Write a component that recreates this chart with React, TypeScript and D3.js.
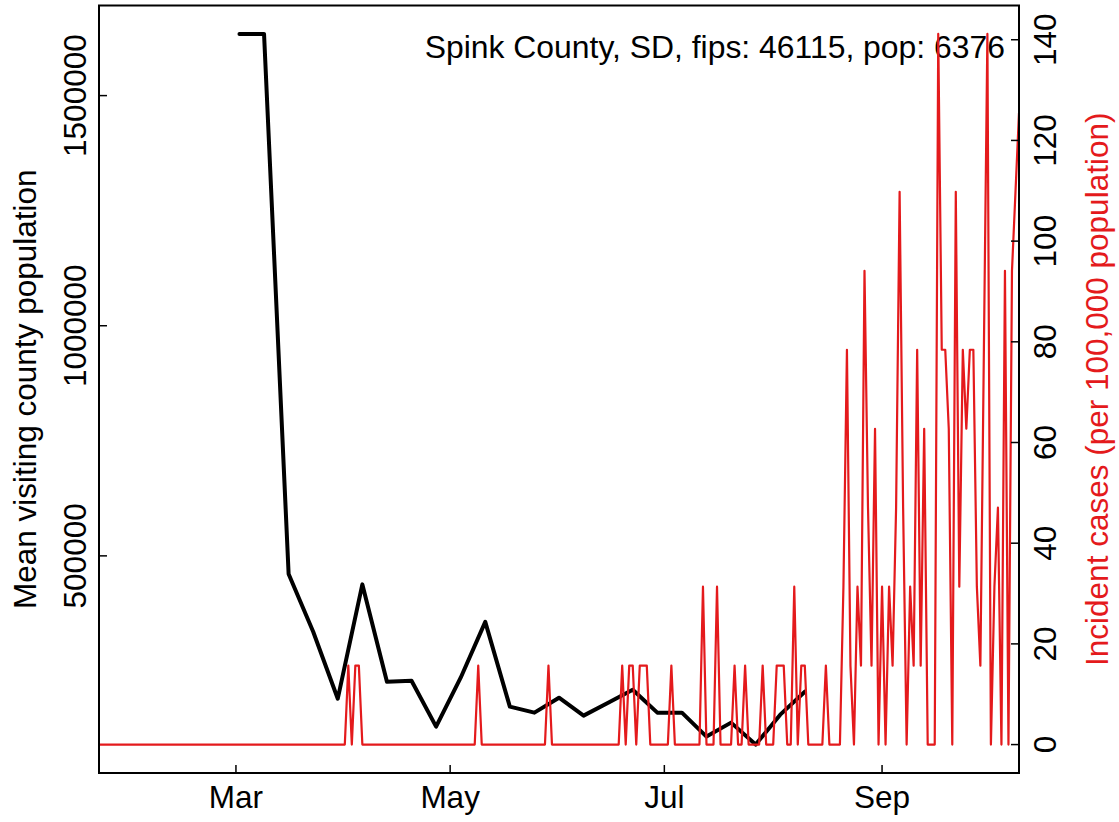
import { useEffect, useRef } from 'react';
import * as d3 from 'd3';

const countyLabel = 'Spink County, SD, fips: 46115, pop: 6376';
const population = 6376;

// weekly mean visiting county population
const visitDates = [
  '2020-03-02', '2020-03-09', '2020-03-16', '2020-03-23', '2020-03-30', '2020-04-06',
  '2020-04-13', '2020-04-20', '2020-04-27', '2020-05-04', '2020-05-11', '2020-05-18',
  '2020-05-25', '2020-06-01', '2020-06-08', '2020-06-15', '2020-06-22', '2020-06-29',
  '2020-07-06', '2020-07-13', '2020-07-20', '2020-07-27', '2020-08-03', '2020-08-10'
];
const visitValues = [
  1634000, 1634000, 460800, 335000, 189700, 438000,
  226600, 228800, 129000, 235300, 356700, 172400,
  159400, 191900, 152900, 181100, 209300, 159400,
  159400, 107300, 137700, 90000, 155000, 204900
];

// daily new cases, one value per day from Jan 22 to Oct 10
const caseStart = '2020-01-22';
const casesJan = [0, 0, 0, 0, 0, 0, 0, 0, 0, 0];
const casesFeb = [0, 0, 0, 0, 0, 0, 0, 0, 0, 0, 0, 0, 0, 0, 0, 0, 0, 0, 0, 0, 0, 0, 0, 0, 0, 0, 0, 0, 0];
const casesMar = [0, 0, 0, 0, 0, 0, 0, 0, 0, 0, 0, 0, 0, 0, 0, 0, 0, 0, 0, 0, 0, 0, 0, 0, 0, 0, 0, 0, 0, 0, 0];
const casesApr = [0, 1, 0, 1, 1, 0, 0, 0, 0, 0, 0, 0, 0, 0, 0, 0, 0, 0, 0, 0, 0, 0, 0, 0, 0, 0, 0, 0, 0, 0];
const casesMay = [0, 0, 0, 0, 0, 0, 0, 0, 1, 0, 0, 0, 0, 0, 0, 0, 0, 0, 0, 0, 0, 0, 0, 0, 0, 0, 0, 0, 1, 0, 0];
const casesJun = [0, 0, 0, 0, 0, 0, 0, 0, 0, 0, 0, 0, 0, 0, 0, 0, 0, 0, 1, 0, 1, 1, 0, 1, 1, 1, 0, 0, 0, 0];
const casesJul = [0, 0, 1, 0, 0, 0, 0, 0, 0, 0, 0, 2, 0, 0, 0, 2, 0, 0, 0, 0, 1, 0, 0, 1, 0, 0, 0, 0, 1, 0, 0];
const casesAug = [0, 1, 1, 1, 0, 0, 2, 0, 1, 1, 0, 0, 0, 0, 0, 1, 0, 0, 0, 0, 2, 5, 1, 0, 2, 1, 6, 3, 1, 4, 0];
const casesSep = [2, 0, 2, 1, 3, 7, 3, 0, 2, 1, 5, 1, 4, 0, 0, 0, 9, 5, 5, 4, 0, 7, 2, 5, 4, 5, 5, 2, 1, 5];
const casesOct = [9, 0, 2, 3, 0, 6, 0, 6, 7, 8];

const monthTicks = ['2020-03-01', '2020-05-01', '2020-07-01', '2020-09-01'];
const leftTicks = [500000, 1000000, 1500000];
const rightTicks = [0, 20, 40, 60, 80, 100, 120, 140];

const RED = '#E41A1C';
const FONT = '"Liberation Sans", Arial, Helvetica, sans-serif';

// R style axis range: data extent widened by 4% on each side
const padExtent = (vals: number[]): [number, number] => {
  const [lo, hi] = d3.extent(vals) as [number, number];
  const pad = (hi - lo) * 0.04;
  return [lo - pad, hi + pad];
};

const App = () => {
  const ref = useRef<SVGSVGElement | null>(null);

  useEffect(() => {
    if (!ref.current) return;
    const svg = d3.select(ref.current);
    svg.selectAll('*').remove();

    const box = { left: 99, right: 1019, top: 5.5, bottom: 773 };
    const parse = d3.utcParse('%Y-%m-%d');

    const dailyCases = [
      ...casesJan, ...casesFeb, ...casesMar, ...casesApr, ...casesMay,
      ...casesJun, ...casesJul, ...casesAug, ...casesSep, ...casesOct
    ];
    const start = parse(caseStart) as Date;
    const incidence = dailyCases.map((c, i) => ({
      date: d3.utcDay.offset(start, i),
      value: (c * 100000) / population
    }));
    const visits = visitDates.map((d, i) => ({ date: parse(d) as Date, value: visitValues[i] }));

    const x = d3
      .scaleUtc()
      .domain([start, incidence[incidence.length - 1].date])
      .range([box.left, box.right]);
    const yLeft = d3.scaleLinear().domain(padExtent(visitValues)).range([box.bottom, box.top]);
    const yRight = d3
      .scaleLinear()
      .domain(padExtent(incidence.map((d) => d.value)))
      .range([box.bottom, box.top]);

    const defs = svg.append('defs');
    defs
      .append('clipPath')
      .attr('id', 'plot-clip')
      .append('rect')
      .attr('x', box.left)
      .attr('y', box.top)
      .attr('width', box.right - box.left)
      .attr('height', box.bottom - box.top);

    // title
    svg
      .append('text')
      .attr('x', 1005)
      .attr('y', 58)
      .attr('text-anchor', 'end')
      .style('font-family', FONT)
      .style('font-size', '31.9px')
      .style('fill', '#000')
      .text(countyLabel);

    const plot = svg.append('g').attr('clip-path', 'url(#plot-clip)');

    // visiting population line
    const visitLine = d3
      .line<{ date: Date; value: number }>()
      .x((d) => x(d.date))
      .y((d) => yLeft(d.value));
    plot
      .append('path')
      .datum(visits)
      .attr('fill', 'none')
      .attr('stroke', '#000')
      .attr('stroke-width', 4)
      .attr('stroke-linejoin', 'round')
      .attr('stroke-linecap', 'round')
      .attr('d', visitLine);

    // incidence line
    const caseLine = d3
      .line<{ date: Date; value: number }>()
      .x((d) => x(d.date))
      .y((d) => yRight(d.value));
    plot
      .append('path')
      .datum(incidence)
      .attr('fill', 'none')
      .attr('stroke', RED)
      .attr('stroke-width', 2.2)
      .attr('stroke-linejoin', 'round')
      .attr('d', caseLine);

    // frame
    svg
      .append('rect')
      .attr('x', box.left)
      .attr('y', box.top)
      .attr('width', box.right - box.left)
      .attr('height', box.bottom - box.top)
      .attr('fill', 'none')
      .attr('stroke', '#000')
      .attr('stroke-width', 2);

    const tick = 8;
    const label = (sel: d3.Selection<SVGTextElement, unknown, null, undefined>) =>
      sel.style('font-family', FONT).style('font-size', '31.5px');

    // bottom axis
    monthTicks.forEach((m) => {
      const d = parse(m) as Date;
      const px = x(d);
      svg
        .append('line')
        .attr('x1', px)
        .attr('x2', px)
        .attr('y1', box.bottom)
        .attr('y2', box.bottom - tick)
        .attr('stroke', '#000')
        .attr('stroke-width', 1.5);
      svg
        .append('text')
        .attr('x', px)
        .attr('y', 808)
        .attr('text-anchor', 'middle')
        .call(label)
        .style('fill', '#000')
        .text(d3.utcFormat('%b')(d));
    });

    // left axis
    leftTicks.forEach((v) => {
      const py = yLeft(v);
      svg
        .append('line')
        .attr('x1', box.left)
        .attr('x2', box.left + tick)
        .attr('y1', py)
        .attr('y2', py)
        .attr('stroke', '#000')
        .attr('stroke-width', 1.5);
      svg
        .append('text')
        .attr('transform', `translate(86, ${py}) rotate(-90)`)
        .attr('text-anchor', 'middle')
        .call(label)
        .style('fill', '#000')
        .text(d3.format('d')(v));
    });

    // right axis
    rightTicks.forEach((v) => {
      const py = yRight(v);
      svg
        .append('line')
        .attr('x1', box.right)
        .attr('x2', box.right - tick)
        .attr('y1', py)
        .attr('y2', py)
        .attr('stroke', '#000')
        .attr('stroke-width', 1.5);
      svg
        .append('text')
        .attr('transform', `translate(1056, ${py}) rotate(-90)`)
        .attr('text-anchor', 'middle')
        .call(label)
        .style('fill', '#000')
        .text(String(v));
    });

    const midY = (box.top + box.bottom) / 2;
    svg
      .append('text')
      .attr('transform', `translate(36, ${midY}) rotate(-90)`)
      .attr('text-anchor', 'middle')
      .call(label)
      .style('fill', '#000')
      .text('Mean visiting county population');

    svg
      .append('text')
      .attr('transform', `translate(1108, ${midY}) rotate(-90)`)
      .attr('text-anchor', 'middle')
      .call(label)
      .style('fill', RED)
      .text('Incident cases (per 100,000 population)');
  }, []);

  return (
    <div style={{ position: 'absolute', left: 0, top: 0, background: '#fff' }}>
      <svg ref={ref} width={1119} height={822} />
    </div>
  );
};

export default App;
